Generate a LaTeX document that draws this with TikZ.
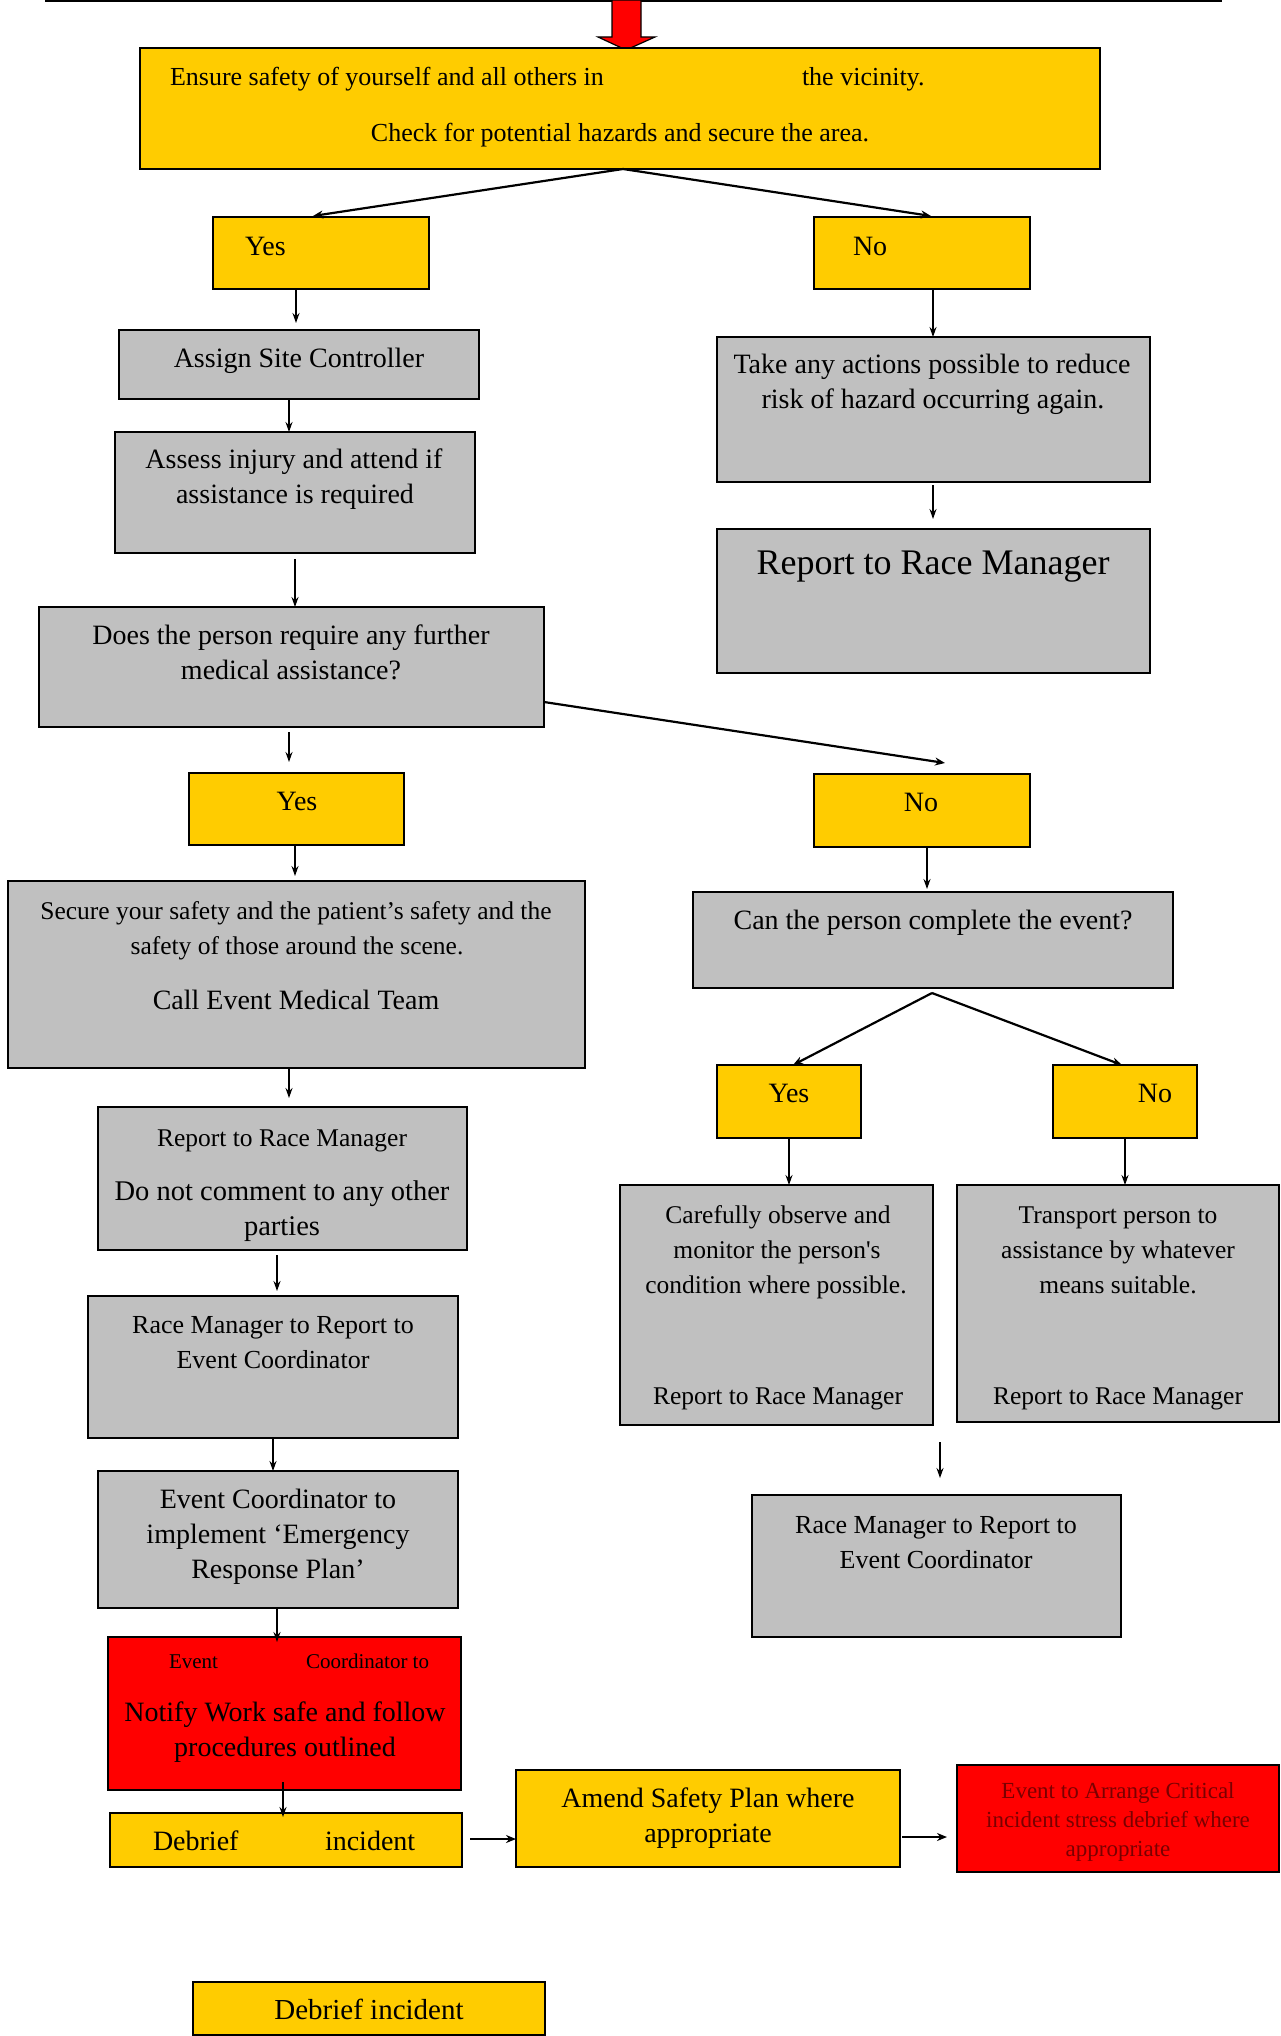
\documentclass[tikz,border=0pt]{standalone}
\usepackage{fontspec}
\setmainfont{Liberation Serif}
\usetikzlibrary{calc,arrows.meta}
\definecolor{byel}{HTML}{FFCC00}
\definecolor{bgry}{HTML}{C0C0C0}
\definecolor{bred}{HTML}{FF0000}
\definecolor{dred}{HTML}{7A0000}
\tikzset{
  box/.style={draw=black, line width=2pt, inner sep=0pt, outer sep=0pt},
  ybox/.style={box, fill=byel},
  gbox/.style={box, fill=bgry},
  rbox/.style={box, fill=bred},
  txt/.style={anchor=base, inner sep=0pt, outer sep=0pt, font=\fontsize{28}{34}\selectfont},
  fs/.style={font=\fontsize{#1}{#1}\selectfont},
  arr/.style={line width=1.3pt, -{Stealth[length=10pt,width=7pt]}},
  arrt/.style={line width=2.2pt, -{Stealth[length=10pt,width=8pt]}},
}
\newcommand\mkbox[6]{\node[#1, anchor=north west, minimum width={#4pt-#2pt}, minimum height={#5pt-#3pt}] (#6) at (#2,#3) {};}
\newcommand\tx[5][]{\node[txt,#1] (#2) at (#3,#4) {#5};}
\begin{document}
\begin{tikzpicture}[x=1pt,y=-1pt]
\useasboundingbox (0,0) rectangle (1280,2036);
\fill[white] (0,0) rectangle (1280,2036);

% top rule and block arrow
\draw[line width=2pt] (45,1) -- (1222,1);
\fill[bred, draw=black, line width=1.2pt] (612,0) -- (641,0) -- (641,37) -- (655,37) -- (626,50) -- (598,37) -- (612,37) -- cycle;

% boxes
\mkbox{ybox}{140}{48}{1100}{169}{top}
\mkbox{ybox}{213}{217}{429}{289}{yesa}
\mkbox{ybox}{814}{217}{1030}{289}{noa}
\mkbox{gbox}{119}{330}{479}{399}{assign}
\mkbox{gbox}{717}{337}{1150}{482}{take}
\mkbox{gbox}{115}{432}{475}{553}{assess}
\mkbox{gbox}{717}{529}{1150}{673}{reporta}
\mkbox{gbox}{39}{607}{544}{727}{does}
\mkbox{ybox}{189}{773}{404}{845}{yesb}
\mkbox{ybox}{814}{774}{1030}{847}{nob}
\mkbox{gbox}{8}{881}{585}{1068}{secure}
\mkbox{gbox}{693}{892}{1173}{988}{can}
\mkbox{ybox}{717}{1065}{861}{1138}{yesc}
\mkbox{ybox}{1053}{1065}{1197}{1138}{noc}
\mkbox{gbox}{98}{1107}{467}{1250}{reportl}
\mkbox{gbox}{620}{1185}{933}{1425}{careful}
\mkbox{gbox}{957}{1185}{1279}{1422}{transport}
\mkbox{gbox}{88}{1296}{458}{1438}{rml}
\mkbox{gbox}{98}{1471}{458}{1608}{ec}
\mkbox{gbox}{752}{1495}{1121}{1637}{rmr}
\mkbox{rbox}{108}{1637}{461}{1790}{redl}
\mkbox{ybox}{110}{1813}{462}{1867}{debrief}
\mkbox{ybox}{516}{1770}{900}{1867}{amend}
\mkbox{rbox}{957}{1765}{1279}{1872}{redr}
\mkbox{ybox}{193}{1982}{545}{2035}{debriefb}

% texts
\tx[anchor=base west,fs=26]{ta}{170}{86}{Ensure safety of yourself and all others in}
\tx[anchor=base west,fs=26]{tb}{802}{86}{the vicinity.}
\tx[fs=26]{tc}{620}{142}{Check for potential hazards and secure the area.}
\tx[anchor=base west]{td}{245}{255}{Yes}
\tx[anchor=base west]{te}{853}{255}{No}
\tx{tf}{299}{367}{Assign Site Controller}
\tx{tg}{932}{373}{Take any actions possible to reduce}
\tx{th}{933}{408}{risk of hazard occurring again.}
\tx{ti}{294}{468}{Assess injury and attend if}
\tx{tj}{295}{503}{assistance is required}
\tx[fs=36]{tk}{933}{574}{Report to Race Manager}
\tx{tl}{291}{644}{Does the person require any further}
\tx{tm}{291}{679}{medical assistance?}
\tx{tn}{297}{810}{Yes}
\tx{to}{921}{811}{No}
\tx[fs=25.5]{tp}{296}{919}{Secure your safety and the patient’s safety and the}
\tx[fs=25.5]{tq}{297}{954}{safety of those around the scene.}
\tx{tr}{296}{1009}{Call Event Medical Team}
\tx{ts}{933}{929}{Can the person complete the event?}
\tx{tt}{789}{1102}{Yes}
\tx{tu}{1155}{1102}{No}
\tx[fs=25.5]{tv}{282}{1146}{Report to Race Manager}
\tx[fs=28.5]{tw}{282}{1200}{Do not comment to any other}
\tx[fs=28.5]{tx}{282}{1235}{parties}
\tx[fs=25.5]{ty}{778}{1223}{Carefully observe and}
\tx[fs=25.5]{tz}{777}{1258}{monitor the person\textquotesingle s}
\tx[fs=25.5]{uа}{776}{1293}{condition where possible.}
\tx[fs=25.5]{ub}{778}{1404}{Report to Race Manager}
\tx[fs=25.5]{uc}{1118}{1223}{Transport person to}
\tx[fs=25.5]{ud}{1118}{1258}{assistance by whatever}
\tx[fs=25.5]{ue}{1118}{1293}{means suitable.}
\tx[fs=25.5]{uf}{1118}{1404}{Report to Race Manager}
\tx[fs=26]{ug}{273}{1333}{Race Manager to Report to}
\tx[fs=26]{uh}{273}{1368}{Event Coordinator}
\tx{ui}{278}{1508}{Event Coordinator to}
\tx{uj}{278}{1543}{implement ‘Emergency}
\tx{uk}{278}{1578}{Response Plan’}
\tx[fs=26]{ul}{936}{1533}{Race Manager to Report to}
\tx[fs=26]{um}{936}{1568}{Event Coordinator}
\tx[anchor=base west,fs=21]{un}{169}{1668}{Event}
\tx[anchor=base west,fs=21]{uo}{306}{1668}{Coordinator to}
\tx{up}{285}{1721}{Notify Work safe and follow}
\tx{uq}{285}{1756}{procedures outlined}
\tx[anchor=base west]{ur}{153}{1850}{Debrief}
\tx[anchor=base west]{us}{325}{1850}{incident}
\tx{ut}{708}{1807}{Amend Safety Plan where}
\tx{uu}{708}{1842}{appropriate}
\tx[fs=23,text=dred]{uv}{1118}{1798}{Event to Arrange Critical}
\tx[fs=23,text=dred]{uw}{1118}{1827}{incident stress debrief where}
\tx[fs=23,text=dred]{ux}{1118}{1856}{appropriate}
\tx[fs=29]{uy}{369}{2019}{Debrief incident}

% connectors
\draw[arrt] ($(top.south)+(3,0)$) -- ($(yesa.north west)+(100,-1)$);
\draw[arrt] ($(top.south)+(3,0)$) -- ($(noa.north west)+(117,-1)$);
\draw[arr] ($(yesa.south west)+(83,0)$) -- ($(assign.north west)+(177,-7)$);
\draw[arr] ($(noa.south west)+(119,0)$) -- ($(take.north west)+(216,0)$);
\draw[arr] ($(assign.south west)+(170,0)$) -- ($(assess.north west)+(174,0)$);
\draw[arr] ($(take.south west)+(216,3)$) -- ($(reporta.north west)+(216,-10)$);
\draw[arr] ($(assess.south west)+(180,6)$) -- ($(does.north west)+(256,0)$);
\draw[arrt] ($(does.south east)+(0,-25)$) -- ($(nob.north west)+(131,-11)$);
\draw[arr] ($(does.south west)+(250,5)$) -- ($(yesb.north west)+(100,-11)$);
\draw[arr] ($(yesb.south west)+(106,0)$) -- ($(secure.north west)+(287,-5)$);
\draw[arr] ($(nob.south west)+(113,0)$) -- ($(can.north west)+(234,-3)$);
\draw[arrt] ($(can.south west)+(239,5)$) -- ($(yesc.north west)+(76,0)$);
\draw[arrt] ($(can.south west)+(239,5)$) -- ($(noc.north west)+(69,0)$);
\draw[arr] ($(secure.south west)+(281,1)$) -- ($(reportl.north west)+(191,-9)$);
\draw[arr] ($(yesc.south west)+(72,0)$) -- ($(careful.north west)+(169,0)$);
\draw[arr] ($(noc.south west)+(72,0)$) -- ($(transport.north west)+(168,0)$);
\draw[arr] ($(reportl.south west)+(179,5)$) -- ($(rml.north west)+(189,-5)$);
\draw[arr] ($(rml.south west)+(185,0)$) -- ($(ec.north west)+(175,0)$);
\draw[arr] ($(careful.south west)+(320,17)$) -- ($(rmr.north west)+(188,-17)$);
\draw[arr] ($(ec.south west)+(179,0)$) -- ($(redl.north west)+(169,5)$);
\draw[arr] ($(redl.south west)+(175,-8)$) -- ($(debrief.north west)+(173,4)$);
\draw[arrt] ($(debrief.south east)+(8,-28)$) -- ($(amend.south west)+(0,-28)$);
\draw[arrt] ($(amend.south east)+(2,-30)$) -- ($(redr.south west)+(-10,-35)$);
\end{tikzpicture}
\end{document}
